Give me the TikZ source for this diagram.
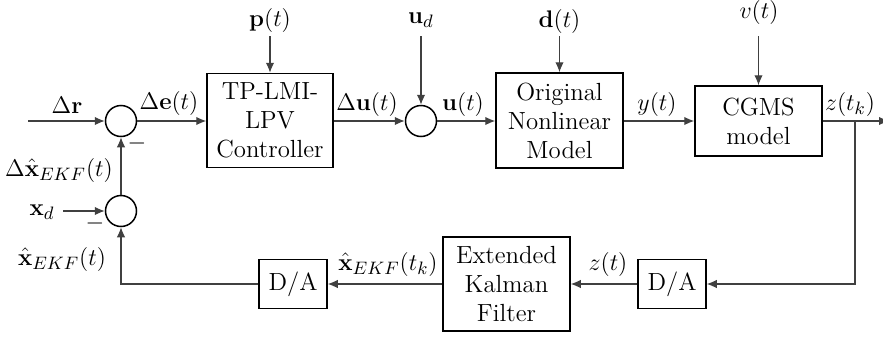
\documentclass[tikz,border=0pt]{standalone}
\usetikzlibrary{arrows.meta}
\begin{document}
\begin{tikzpicture}[x=0.5pt,y=-0.5pt,
  every node/.style={font=\fontsize{12.4}{14.5}\selectfont},
  blockbox/.style={draw,line width=0.75pt,align=center,inner sep=0pt},
  sumnode/.style={draw,circle,line width=0.75pt,minimum size=15.5pt,inner sep=0pt},
  sig/.style={draw=black!75,line width=0.55pt,-{Latex[length=5pt,width=4.2pt]}},
  lbl/.style={inner sep=0pt}]
\useasboundingbox (0,0) rectangle (883,338);

% forward path
\node[sumnode] (sum1) at (121,121) {};
\node[sumnode] (sum2) at (121,211) {};
\node[blockbox,minimum width=63pt,minimum height=47pt] (ctrl) at (270,120.5) {TP-LMI-\\LPV\\Controller};
\node[sumnode] (sum3) at (421,121) {};
\node[blockbox,minimum width=63.5pt,minimum height=47.5pt] (plant) at (559.5,120.5) {Original\\Nonlinear\\Model};
\node[blockbox,minimum width=63.5pt,minimum height=35pt] (cgms) at (758.5,121) {CGMS\\model};

% feedback path
\node[blockbox,minimum width=34pt,minimum height=24.5pt] (da2) at (672,284) {D/A};
\node[blockbox,minimum width=63.5pt,minimum height=47pt] (ekf) at (506.5,284) {Extended\\Kalman\\Filter};
\node[blockbox,minimum width=34pt,minimum height=24.5pt] (da1) at (293,284) {D/A};

% free ends of the signals
\coordinate (rin) at (28,121);
\coordinate (xdin) at (63,211);
\coordinate (pin) at (270,36);
\coordinate (udin) at (421,36);
\coordinate (din) at (559.5,36);
\coordinate (vin) at (758.5,36);
\coordinate (yout) at (889,121);
\coordinate (br) at (855,121);

% signal labels
\node[lbl] (lr) at (67,105) {$\Delta\mathbf{r}$};
\node[lbl] (le) at (169,103) {$\Delta\mathbf{e}(t)$};
\node[lbl] (lm1) at (137,143) {$-$};
\node[lbl] (ldx) at (59,170) {$\Delta\hat{\mathbf{x}}_{EKF}(t)$};
\node[lbl] (lxd) at (42,212) {$\mathbf{x}_d$};
\node[lbl] (lm2) at (95,223) {$-$};
\node[lbl] (lx) at (62,259) {$\hat{\mathbf{x}}_{EKF}(t)$};
\node[lbl] (lp) at (270,20) {$\mathbf{p}(t)$};
\node[lbl] (lud) at (421,20) {$\mathbf{u}_d$};
\node[lbl] (ldu) at (367,104) {$\Delta\mathbf{u}(t)$};
\node[lbl] (lu) at (463,104) {$\mathbf{u}(t)$};
\node[lbl] (ld) at (559.5,21) {$\mathbf{d}(t)$};
\node[lbl] (ly) at (657,104) {$y(t)$};
\node[lbl] (lv) at (759,12) {$v(t)$};
\node[lbl] (lz) at (850,104) {$z(t_k)$};
\node[lbl] (lxk) at (388,264) {$\hat{\mathbf{x}}_{EKF}(t_k)$};
\node[lbl] (lzt) at (608,264) {$z(t)$};

% connectors
\draw[sig] (rin) -- (sum1.west);
\draw[sig] (sum1.east) -- (ctrl.west |- sum1.east);
\draw[sig] (ctrl.east |- sum3.west) -- (sum3.west);
\draw[sig] (sum3.east) -- (plant.west |- sum3.east);
\draw[sig] (plant.east |- cgms.west) -- (cgms.west);
\draw[sig] (cgms.east) -- (yout);
\draw[sig] (pin) -- (ctrl.north);
\draw[sig] (udin) -- (sum3.north);
\draw[sig] (din) -- (plant.north);
\draw[sig] (vin) -- (cgms.north);
\draw[sig] (br) |- (da2.east);
\draw[sig] (da2.west) -- (ekf.east |- da2.west);
\draw[sig] (ekf.west |- da1.east) -- (da1.east);
\draw[sig] (da1.west) -| (sum2.south);
\draw[sig] (xdin) -- (sum2.west);
\draw[sig] (sum2.north) -- (sum1.south);
\end{tikzpicture}
\end{document}
